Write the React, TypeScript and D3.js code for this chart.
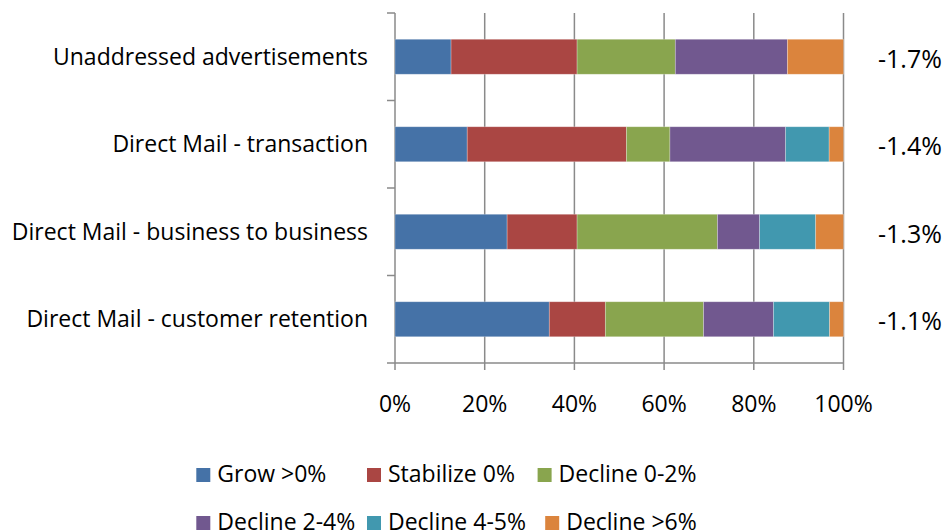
import React from "react";
import * as d3 from "d3";

const categories = [
  "Unaddressed advertisements",
  "Direct Mail - transaction",
  "Direct Mail - business to business",
  "Direct Mail - customer retention",
];
const seriesNames = ["Grow >0%", "Stabilize 0%", "Decline 0-2%", "Decline 2-4%", "Decline 4-5%", "Decline >6%"];
const growValues = [12.5, 16.1, 25.0, 34.4];
const stabilizeValues = [28.1, 35.5, 15.6, 12.5];
const decline02Values = [21.9, 9.7, 31.3, 21.9];
const decline24Values = [25.0, 25.8, 9.4, 15.6];
const decline45Values = [0, 9.7, 12.5, 12.5];
const decline6Values = [12.5, 3.2, 6.2, 3.1];
const averageLabels = ["-1.7%", "-1.4%", "-1.3%", "-1.1%"];
const xTicks = [0, 20, 40, 60, 80, 100];
const seriesColors = ["#4572A7", "#AA4643", "#89A54E", "#71588F", "#4198AF", "#DB843D"];

const W = 947;
const H = 530;
const FONT = "'Open Sans', sans-serif";
const FS = 23;
const GRID = "#8a8a8a";

function Txt({
  x,
  y,
  anchor = "start",
  size = FS,
  children,
}: {
  x: number;
  y: number;
  anchor?: string;
  size?: number;
  children: React.ReactNode;
}) {
  return (
    <text x={x} y={y} textAnchor={anchor} fontFamily={FONT} fontSize={size} fill="#000">
      {children}
    </text>
  );
}

export default function App() {
  const allSeries = [growValues, stabilizeValues, decline02Values, decline24Values, decline45Values, decline6Values];
  const rows = categories.map((c, i) => {
    const r: any = { category: c };
    seriesNames.forEach((s, j) => (r[s] = allSeries[j][i]));
    return r;
  });
  const stacked = d3.stack().keys(seriesNames)(rows);

  const x = d3.scaleLinear().domain([0, 100]).range([395, 843.5]);
  const y = d3.scaleBand().domain(categories).range([13, 363]).paddingInner(0.6).paddingOuter(0.3);
  const step = y.step();
  const top = 13;
  const bottom = 363;

  const legendPos = [
    [196.3, 468],
    [367, 468],
    [537.6, 468],
    [196.3, 516],
    [367, 516],
    [545.2, 516],
  ];

  return (
    <svg width={W} height={H} style={{ position: "absolute", left: 0, top: 0, background: "#fff" }}>
      <rect width={W} height={H} fill="#fff" />
      {/* gridlines + bottom ticks */}
      {xTicks.map((t) => (
        <line key={t} x1={x(t)} x2={x(t)} y1={top} y2={bottom + 7} stroke={GRID} strokeWidth={1.5} />
      ))}
      {/* category boundary ticks */}
      {d3.range(categories.length + 1).map((i) => (
        <line key={i} x1={387} x2={x(0)} y1={top + i * step} y2={top + i * step} stroke={GRID} strokeWidth={1.5} />
      ))}
      <line x1={x(0)} x2={x(100)} y1={bottom} y2={bottom} stroke={GRID} strokeWidth={1.5} />
      {/* bars */}
      {stacked.map((s, j) => (
        <g key={s.key} fill={seriesColors[j]}>
          {s.map((d, i) =>
            d[1] - d[0] > 0 ? (
              <rect
                key={i}
                x={x(d[0])}
                y={y(categories[i])}
                width={x(d[1]) - x(d[0])}
                height={y.bandwidth()}
                stroke="#ffffff"
                strokeOpacity={0.35}
                strokeWidth={0.75}
              />
            ) : null
          )}
        </g>
      ))}
      {/* category labels */}
      {categories.map((c) => (
        <Txt key={c} x={368} y={(y(c) as number) + y.bandwidth() / 2 + 8} anchor="end">
          {c}
        </Txt>
      ))}
      {/* right labels */}
      {categories.map((c, i) => (
        <Txt key={c} x={878} y={(y(c) as number) + y.bandwidth() / 2 + 11} size={25}>
          {averageLabels[i]}
        </Txt>
      ))}
      {/* x tick labels */}
      {xTicks.map((t) => (
        <Txt key={t} x={x(t)} y={412} anchor="middle">
          {`${t}%`}
        </Txt>
      ))}
      {/* legend */}
      {seriesNames.map((s, j) => (
        <g key={s}>
          <rect x={legendPos[j][0]} y={legendPos[j][1]} width={14} height={14} fill={seriesColors[j]} />
          <Txt x={legendPos[j][0] + 21} y={legendPos[j][1] + 14}>
            {s}
          </Txt>
        </g>
      ))}
    </svg>
  );
}
